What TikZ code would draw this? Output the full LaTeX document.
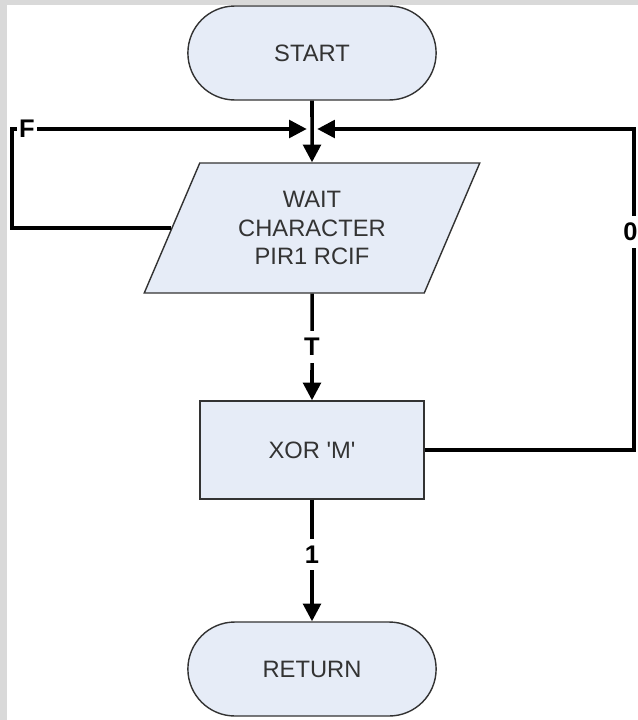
\documentclass[tikz,border=0pt]{standalone}
\usepackage{fontspec}
\setmainfont{Liberation Sans}
\usetikzlibrary{positioning,shapes.geometric,shapes.misc,arrows.meta}
\definecolor{boxfill}{HTML}{E6ECF7}
\definecolor{boxline}{HTML}{333333}
\definecolor{wmgrey}{HTML}{D9D9D9}

\begin{document}
\begin{tikzpicture}[x=0.02cm,y=-0.02cm,
  every node/.style={font=\fontsize{13.5}{16}\selectfont,text=boxline},
  term/.style={rounded rectangle,draw=boxline,fill=boxfill,line width=0.8pt,minimum width=5.2cm,minimum height=1.88cm},
  io/.style={trapezium,trapezium left angle=65,trapezium right angle=115,trapezium stretches=true,draw=boxline,fill=boxfill,line width=0.8pt,minimum width=6.72cm,minimum height=2.6cm,align=center},
  proc/.style={rectangle,draw=boxline,fill=boxfill,line width=0.8pt,minimum width=4.48cm,minimum height=1.96cm},
  flow/.style={line width=2pt,-{Triangle[length=10pt,width=10pt]}},
  lbl/.style={fill=white,font=\fontsize{14.5}{16}\selectfont\bfseries,text=black,inner xsep=1.5pt,inner ysep=4pt}]
\useasboundingbox (0,0) rectangle (638,720);
% background marks
\fill [wmgrey] (0,0) rectangle (7,720);
\fill [wmgrey] (0,0) rectangle (638,5);

\node [term] (start) at (312,53) {START};
\node [io] (wait) at (312,228) {WAIT\\CHARACTER\\PIR1 RCIF};
\node [proc] (xor) at (312,450) {XOR \textquotesingle M\textquotesingle};
\node [term] (ret) at (312,669) {RETURN};

\coordinate (join) at (312,129);
\coordinate (fcorner) at (12,129);
\coordinate (zcorner) at (634,129);

\draw [flow] (start.south) -- (wait.north);
\draw [flow,shorten >=3pt] (wait.west) -| (fcorner) -- node[lbl,pos=0.05]{F} (join);
\draw [flow,shorten >=3pt] (xor.east) -| node[lbl,pos=0.84,xshift=-2pt]{0} (zcorner) -- (join);
\draw [flow] (wait.south) -- node[lbl]{T} (xor.north);
\draw [flow] (xor.south) -- node[lbl,pos=0.45]{1} (ret.north);
\end{tikzpicture}
\end{document}
